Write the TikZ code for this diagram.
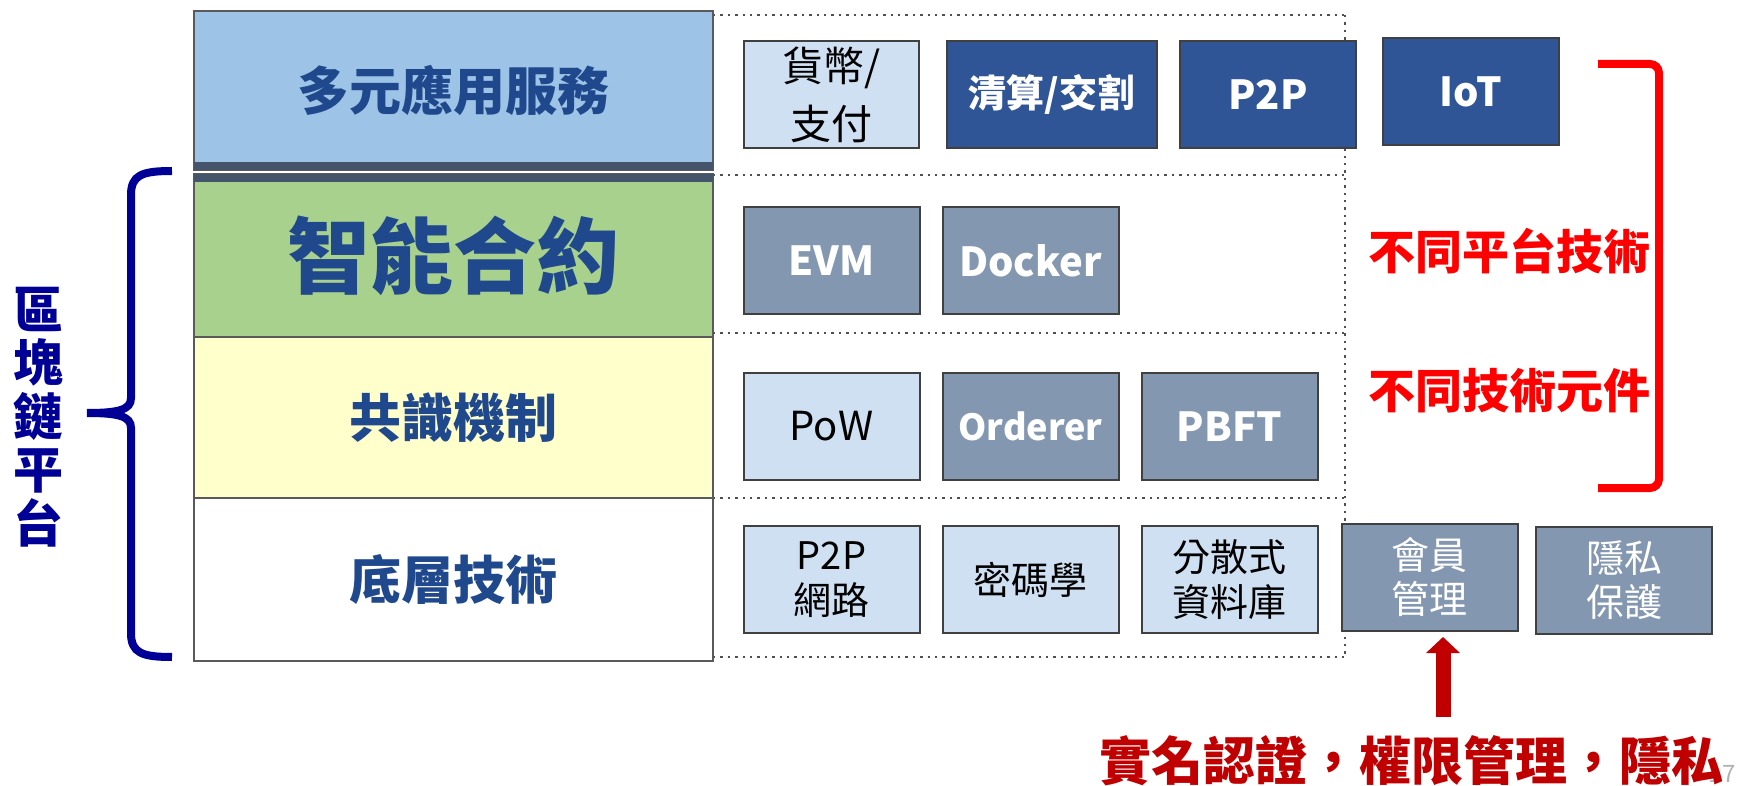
\documentclass[tikz,border=0pt]{standalone}
\usepackage{fontspec}
\setmainfont{Noto Sans CJK TC}
\usepackage{tikz}
\usetikzlibrary{calc}
\usetikzlibrary{positioning}
\usetikzlibrary{arrows.meta}
\definecolor{layerBlue}{RGB}{157,195,230}
\definecolor{layerGreen}{RGB}{169,209,142}
\definecolor{layerYellow}{RGB}{255,255,204}
\definecolor{layerLine}{RGB}{90,90,90}
\definecolor{layerText}{RGB}{31,73,140}
\definecolor{bandDark}{RGB}{68,84,106}
\definecolor{boxLight}{RGB}{207,224,242}
\definecolor{boxDark}{RGB}{47,85,151}
\definecolor{boxGray}{RGB}{132,151,176}
\definecolor{boxLine}{RGB}{64,64,64}
\definecolor{sepGray}{RGB}{80,80,80}
\definecolor{braceNavy}{RGB}{0,0,150}
\definecolor{darkRed}{RGB}{192,0,0}
\tikzset{
	layer/.style={draw=layerLine, line width=1.6pt, minimum width=519pt, inner sep=0pt, text=layerText, font=\bfseries\fontsize{52}{52}\selectfont},
	techbox/.style={draw=boxLine, line width=2pt, minimum width=176pt, minimum height=107pt, inner sep=0pt, align=center, font=\fontsize{38}{45}\selectfont},
	lightbox/.style={techbox, fill=boxLight, text=black},
	darkbox/.style={techbox, fill=boxDark, text=white, font=\bfseries\fontsize{40}{45}\selectfont},
	graybox/.style={techbox, fill=boxGray, text=white},
	sepline/.style={draw=sepGray, line width=1.2pt, dash pattern=on 2.4pt off 5pt},
	redText/.style={text=red, inner sep=0pt, font=\bfseries\fontsize{47}{47}\selectfont},
}

\begin{document}
\begin{tikzpicture}[x=1pt, y=-1pt]
		\def\colX{453.5}
		\def\gridL{713}
		\def\gridR{1345}
		\def\gap{21pt}

		\useasboundingbox (0,0) rectangle (1738,786);

		\draw[sepline] (\gridL,15) -- (\gridR,15);
		\draw[sepline] (\gridL,175) -- (\gridR,175);
		\draw[sepline] (\gridL,333) -- (\gridR,333);
		\draw[sepline] (\gridL,498) -- (\gridR,498);
		\draw[sepline] (\gridL,657) -- (\gridR,657);
		\draw[sepline] (\gridR,15) -- (\gridR,657);

		\node[layer, fill=layerBlue, minimum height=159pt] (apps) at (\colX,90.5) {多元應用服務};
		\fill[bandDark] (194,162) rectangle (713,170);
		\node[layer, fill=layerGreen, minimum height=163pt, font=\bfseries\fontsize{83}{83}\selectfont] (contract) at (\colX,255.5) {智能合約};
		\fill[bandDark] (194,174) rectangle (713,182);
		\node[layer, fill=layerYellow, minimum height=161pt] (consensus) at (\colX,417.5) {共識機制};
		\node[layer, fill=white, minimum height=163pt] (base) at (\colX,579.5) {底層技術};

		\node[lightbox, minimum width=175pt, font=\fontsize{41}{58}\selectfont] (pay) at (831.5,94.5) {貨幣/\\支付};
		\node[darkbox, minimum width=210pt, font=\bfseries\fontsize{38}{45}\selectfont] (clear) at (1052,94.5) {清算/交割};
		\node[darkbox, right=\gap of clear] (ptop) {P2P};
		\node[darkbox] (iot) at (1471,92) {IoT};

		\node[graybox, font=\bfseries\fontsize{40}{45}\selectfont] (evm) at (831.5,260.5) {EVM};
		\node[graybox, font=\bfseries\fontsize{40}{45}\selectfont, right=\gap of evm] (docker) {Docker};

		\node[lightbox, font=\fontsize{40}{45}\selectfont] (pow) at (831.5,426.5) {PoW};
		\node[graybox, font=\bfseries\fontsize{36}{45}\selectfont, right=\gap of pow] (orderer) {Orderer};
		\node[graybox, font=\bfseries\fontsize{40}{45}\selectfont, right=\gap of orderer] (pbft) {PBFT};

		\node[lightbox] (pnet) at (831.5,579.5) {P2P\\網路};
		\node[lightbox, right=\gap of pnet] (crypto) {密碼學};
		\node[lightbox, right=\gap of crypto] (dbase) {分散式\\資料庫};
		\node[graybox, font=\fontsize{38}{44}\selectfont] (member) at (1429.5,577.5) {會員\\管理};
		\node[graybox, font=\fontsize{38}{44}\selectfont] (privacy) at (1624,580.5) {隱私\\保護};

		\draw[draw=braceNavy, line width=8pt] (172,171) .. controls (142,171) and (131,175) .. (131,195) -- (131,398) .. controls (131,410) and (118,413) .. (87,413) .. controls (118,413) and (131,416) .. (131,428) -- (131,633) .. controls (131,653) and (142,657) .. (172,657);
		\node[text=braceNavy, align=center, inner sep=0pt, font=\bfseries\fontsize{50}{53.5}\selectfont] (platform) at (38.5,417) {區\\塊\\鏈\\平\\台};

		\draw[red, line width=8pt, rounded corners=9pt] (1598,64) -- (1659,64) -- (1659,488) -- (1598,488);
		\node[redText] (platforms) at (1509,251) {不同平台技術};
		\node[redText] (components) at (1509,391) {不同技術元件};

		\coordinate (authTail) at (1443,717);
		\draw[darkRed, line width=15pt, -{Triangle[width=33pt,length=16pt]}, shorten >=5pt] (authTail) -- (authTail |- member.south);

		\node[text=gray!60, inner sep=0pt, font=\fontsize{24}{24}\selectfont] (pagenum) at (1722,774) {17};
		\node[text=darkRed, anchor=west, inner sep=0pt, font=\bfseries\fontsize{52}{52}\selectfont] (realname) at (1099,761) {實名認證，權限管理，隱私};

\end{tikzpicture}
\end{document}
